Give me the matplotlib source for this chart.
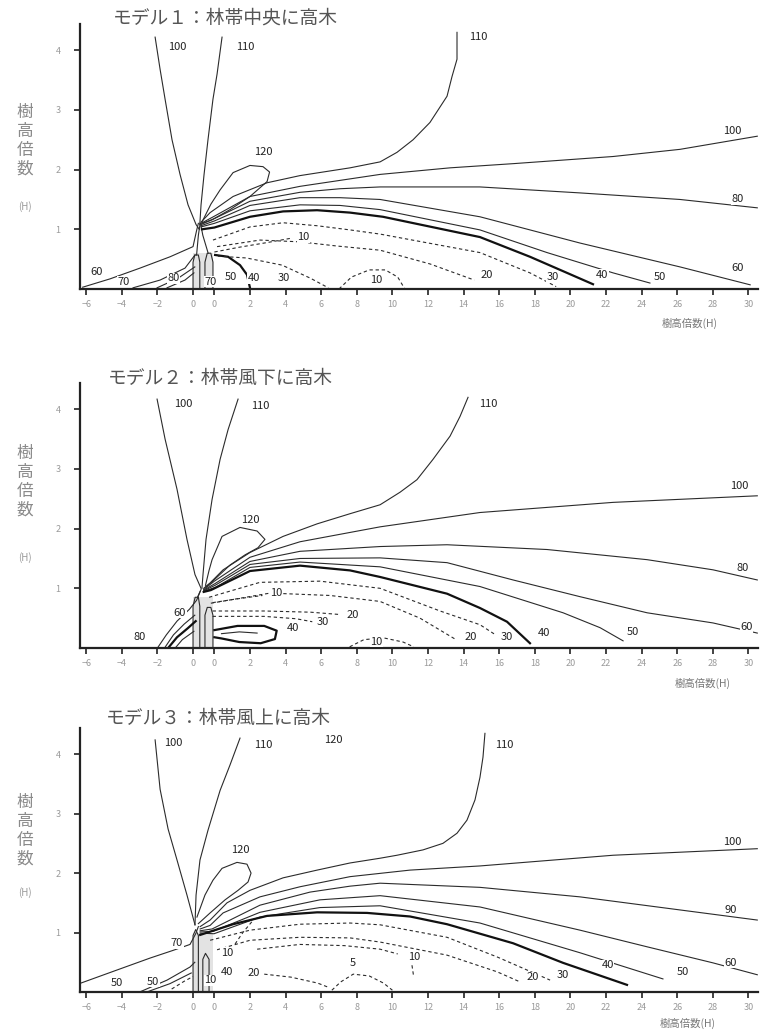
import matplotlib
matplotlib.use("Agg")
import matplotlib.pyplot as plt

plt.rcParams['font.family'] = ['Noto Sans CJK JP', 'DejaVu Sans']

# x axis: windward side -6..0, belt (drawn 1.2 wide), leeward side 0..30
belt_w = 1.2
xtick_pos = [-6, -4, -2, 0] + [belt_w + v for v in range(0, 31, 2)]
xtick_lab = ['−6', '−4', '−2', '0'] + [str(v) for v in range(0, 31, 2)]
ytick_pos = [1, 2, 3, 4]

titles = ["モデル１：林帯中央に高木", "モデル２：林帯風下に高木", "モデル３：林帯風上に高木"]

# ---------------- model 1 ----------------
p1_100L = [(-2.13, 4.22), (-1.85, 3.68), (-1.57, 3.18), (-1.18, 2.50), (-0.73, 1.92), (-0.28, 1.41), (0.17, 1.08), (0.35, 1.0)]
p1_110L = [(1.63, 4.22), (1.35, 3.60), (1.12, 3.18), (0.84, 2.50), (0.62, 1.92), (0.45, 1.41), (0.38, 1.08)]
p1_120 = [(0.5, 1.12), (1.0, 1.42), (1.52, 1.66), (2.25, 1.95), (3.2, 2.07), (3.93, 2.05), (4.3, 1.96), (4.16, 1.80), (3.2, 1.55), (2.08, 1.33), (1.07, 1.16), (0.5, 1.1)]
p1_110R = [(0.45, 1.12), (0.96, 1.28), (2.25, 1.55), (4.16, 1.78), (6.01, 1.90), (8.82, 2.03), (10.51, 2.13), (11.46, 2.29), (12.36, 2.50), (13.31, 2.79), (14.27, 3.23), (14.55, 3.56), (14.83, 3.85), (14.83, 4.30)]
p1_100R = [(0.45, 1.1), (1.2, 1.22), (3.2, 1.55), (6.01, 1.72), (10.51, 1.92), (14.44, 2.03), (17.98, 2.10), (23.6, 2.22), (27.36, 2.34), (31.7, 2.56)]
p1_80 = [(0.45, 1.08), (1.2, 1.18), (3.2, 1.47), (6.01, 1.62), (8.26, 1.68), (10.51, 1.71), (16.12, 1.71), (21.74, 1.61), (27.36, 1.50), (31.7, 1.36)]
p1_60 = [(0.45, 1.06), (1.2, 1.14), (3.2, 1.40), (6.01, 1.53), (8.26, 1.53), (10.51, 1.50), (16.12, 1.21), (21.74, 0.77), (27.36, 0.37), (31.3, 0.07)]
p1_50 = [(0.45, 1.04), (1.2, 1.10), (3.2, 1.31), (6.01, 1.41), (8.26, 1.40), (10.51, 1.33), (16.12, 0.99), (19.89, 0.61), (23.6, 0.27), (25.67, 0.10)]
p1_40 = [(0.5, 1.0), (1.2, 1.03), (3.2, 1.21), (5.06, 1.30), (6.97, 1.32), (8.82, 1.28), (10.67, 1.21), (16.12, 0.87), (18.93, 0.54), (21.01, 0.27), (22.47, 0.08)]
p1_30 = [(1.12, 0.82), (3.2, 1.04), (5.06, 1.11), (6.97, 1.06), (8.82, 0.99), (10.51, 0.92), (16.12, 0.61), (18.93, 0.27), (20.4, 0.04)]
p1_20 = [(1.35, 0.71), (3.76, 0.82), (6.01, 0.79), (8.09, 0.72), (10.51, 0.65), (13.31, 0.42), (15.8, 0.15)]
p1_10a = [(1.2, 0.62), (2.6, 0.70), (4.2, 0.78), (5.5, 0.85)]
p1_10b = [(1.4, 0.55), (3.0, 0.52), (5.0, 0.40), (6.6, 0.18), (7.6, 0.02)]
p1_10c = [(8.2, 0.0), (8.9, 0.2), (9.9, 0.32), (10.8, 0.32), (11.5, 0.2), (11.9, 0.0)]
p1_60W = [(-6.2, 0.03), (-4.66, 0.17), (-2.98, 0.35), (-1.29, 0.54), (0.0, 0.71), (0.2, 0.98), (0.3, 1.1)]
p1_70W = [(-3.37, 0.02), (-1.85, 0.15), (-0.45, 0.35), (0.11, 0.57)]
p1_80W = [(-2.02, 0.02), (-0.84, 0.18), (0.1, 0.37)]
p1_90W = [(-1.46, 0.02), (-0.45, 0.15), (0.05, 0.27)]
p1_50arc = [(1.24, 0.57), (1.97, 0.54), (2.64, 0.40), (3.03, 0.24), (3.2, 0.02)]
p1_beltA = [(0.0, 0.0), (0.0, 0.45), (0.1, 0.57), (0.3, 0.57), (0.38, 0.45), (0.38, 0.0)]
p1_beltB = [(0.67, 0.0), (0.67, 0.45), (0.8, 0.6), (1.0, 0.6), (1.12, 0.45), (1.12, 0.0)]
p1_stem = [(0.2, 0.57), (0.3, 0.9), (0.4, 1.1)]
p1_stem2 = [(0.85, 0.6), (0.55, 0.9), (0.42, 1.1)]
p1_labels = [("100", -0.9, 4.05), ("110", 2.92, 4.05), ("110", 16.0, 4.22), ("120", 3.93, 2.29),
             ("100", 30.3, 2.64), ("80", 30.6, 1.50), ("60", 30.6, 0.35), ("50", 26.2, 0.2),
             ("40", 23.0, 0.24), ("30", 20.2, 0.2), ("20", 16.5, 0.24), ("10", 6.2, 0.87),
             ("10", 10.3, 0.15), ("60", -5.4, 0.29), ("70", -3.9, 0.12), ("80", -1.1, 0.18),
             ("70", 0.96, 0.12), ("50", 2.1, 0.2), ("40", 3.4, 0.18), ("30", 5.1, 0.18)]

# ---------------- model 2 ----------------
p2_100L = [(-2.02, 4.17), (-1.57, 3.50), (-0.90, 2.66), (-0.34, 1.82), (0.11, 1.23), (0.45, 1.0)]
p2_110L = [(2.53, 4.17), (1.97, 3.66), (1.52, 3.16), (1.07, 2.49), (0.73, 1.82), (0.56, 1.23), (0.5, 1.0)]
p2_120 = [(0.7, 1.05), (0.9, 1.3), (1.07, 1.48), (1.63, 1.87), (2.64, 2.02), (3.6, 1.96), (4.04, 1.82), (3.65, 1.68), (2.92, 1.56), (2.08, 1.39), (1.07, 1.11), (0.7, 1.02)]
p2_110R = [(0.6, 1.0), (0.96, 1.09), (1.69, 1.31), (3.2, 1.60), (5.06, 1.87), (6.97, 2.08), (8.82, 2.25), (10.51, 2.40), (11.63, 2.61), (12.58, 2.82), (13.48, 3.16), (14.44, 3.55), (15.0, 3.88), (15.45, 4.20)]
p2_100R = [(0.6, 0.98), (1.2, 1.12), (3.2, 1.52), (6.01, 1.78), (10.51, 2.03), (16.12, 2.27), (23.6, 2.44), (31.7, 2.55)]
p2_80 = [(0.6, 0.97), (1.24, 1.08), (3.2, 1.45), (6.01, 1.62), (10.51, 1.70), (14.27, 1.73), (19.89, 1.65), (25.51, 1.48), (29.21, 1.31), (31.7, 1.14)]
p2_60 = [(0.6, 0.96), (1.24, 1.05), (3.2, 1.40), (6.01, 1.50), (10.51, 1.51), (14.27, 1.43), (17.98, 1.14), (21.74, 0.86), (25.51, 0.59), (29.21, 0.42), (31.7, 0.25)]
p2_50 = [(0.6, 0.95), (1.29, 1.02), (3.2, 1.35), (6.01, 1.44), (10.51, 1.36), (16.12, 1.03), (20.79, 0.59), (22.87, 0.34), (24.16, 0.12)]
p2_40 = [(0.6, 0.94), (1.0, 0.97), (3.2, 1.29), (6.01, 1.38), (8.82, 1.30), (10.51, 1.19), (14.27, 0.91), (16.12, 0.67), (17.64, 0.44), (18.93, 0.08)]
p2_30 = [(0.9, 0.85), (3.76, 1.10), (7.13, 1.12), (10.51, 1.0), (13.88, 0.62), (16.12, 0.39), (17.0, 0.22)]
p2_20 = [(1.0, 0.75), (4.33, 0.92), (7.7, 0.88), (10.51, 0.78), (12.75, 0.50), (14.72, 0.15)]
p2_10a = [(1.1, 0.76), (2.4, 0.82), (3.9, 0.88)]
p2_20b = [(1.1, 0.62), (4.0, 0.62), (6.6, 0.60), (8.3, 0.56)]
p2_30b = [(1.1, 0.53), (4.0, 0.53), (5.8, 0.49), (6.7, 0.44)]
p2_40loop = [(1.2, 0.30), (2.5, 0.37), (4.0, 0.37), (4.7, 0.29), (4.6, 0.15), (3.8, 0.08), (2.6, 0.10), (1.6, 0.16), (1.2, 0.18)]
p2_40in = [(1.6, 0.24), (2.6, 0.27), (3.6, 0.25)]
p2_10dome = [(8.8, 0.02), (9.6, 0.14), (10.7, 0.17), (11.8, 0.10), (12.4, 0.02)]
p2_80W = [(-2.0, 0.0), (-1.5, 0.22), (-0.9, 0.45), (-0.2, 0.65), (0.2, 0.80), (0.45, 0.98)]
p2_70W = [(-1.6, 0.0), (-1.1, 0.22), (-0.5, 0.40), (0.1, 0.55)]
p2_60W = [(-1.4, 0.0), (-0.9, 0.18), (-0.3, 0.33), (0.15, 0.45)]
p2_50W = [(-1.0, 0.0), (-0.6, 0.14), (0.05, 0.28)]
p2_beltA = [(0.0, 0.0), (0.0, 0.70), (0.12, 0.85), (0.3, 0.85), (0.38, 0.70), (0.38, 0.0)]
p2_beltB = [(0.67, 0.0), (0.67, 0.55), (0.8, 0.68), (1.0, 0.68), (1.12, 0.55), (1.12, 0.0)]
p2_stem = [(0.25, 0.85), (0.4, 0.95)]
p2_labels = [("100", -0.56, 4.08), ("110", 3.76, 4.05), ("110", 16.6, 4.08), ("120", 3.2, 2.15),
             ("100", 30.7, 2.71), ("80", 30.9, 1.34), ("60", 31.1, 0.35), ("50", 24.7, 0.27),
             ("40", 19.7, 0.25), ("30", 17.6, 0.18), ("20", 15.6, 0.18), ("10", 4.7, 0.92),
             ("40", 5.6, 0.34), ("30", 7.3, 0.44), ("20", 9.0, 0.55), ("10", 10.3, 0.1),
             ("80", -3.0, 0.18), ("60", -0.73, 0.59)]

# ---------------- model 3 ----------------
p3_100L = [(-2.13, 4.24), (-1.85, 3.41), (-1.40, 2.74), (-0.9, 2.22), (-0.34, 1.63), (0.11, 1.13)]
p3_110L = [(2.64, 4.27), (2.08, 3.82), (1.52, 3.39), (0.84, 2.72), (0.39, 2.22), (0.17, 1.63), (0.11, 1.13)]
p3_120 = [(0.22, 1.26), (0.67, 1.63), (1.12, 1.88), (1.63, 2.08), (2.47, 2.18), (3.03, 2.15), (3.26, 2.0), (3.09, 1.85), (2.53, 1.71), (1.80, 1.55), (0.96, 1.33), (0.3, 1.15)]
p3_110R = [(0.4, 1.1), (0.96, 1.21), (1.91, 1.50), (3.2, 1.71), (5.06, 1.92), (6.97, 2.05), (8.82, 2.17), (10.51, 2.25), (11.46, 2.30), (12.92, 2.39), (14.04, 2.50), (14.83, 2.67), (15.39, 2.89), (15.84, 3.23), (16.12, 3.61), (16.29, 3.95), (16.4, 4.35)]
p3_100R = [(0.4, 1.06), (0.96, 1.12), (1.69, 1.33), (3.76, 1.60), (6.01, 1.77), (8.82, 1.94), (12.19, 2.05), (16.12, 2.12), (23.6, 2.30), (31.7, 2.41)]
p3_90 = [(0.4, 1.03), (1.07, 1.06), (3.76, 1.46), (6.57, 1.68), (8.82, 1.78), (10.51, 1.83), (16.12, 1.76), (21.74, 1.60), (27.36, 1.38), (31.7, 1.21)]
p3_60 = [(0.4, 1.01), (1.12, 1.02), (3.76, 1.34), (7.13, 1.55), (10.51, 1.62), (16.12, 1.43), (21.74, 1.04), (25.51, 0.76), (29.21, 0.49), (31.7, 0.29)]
p3_50 = [(0.4, 0.99), (1.18, 0.98), (3.76, 1.26), (7.13, 1.42), (10.51, 1.45), (16.12, 1.16), (21.74, 0.66), (26.4, 0.22)]
p3_40 = [(0.4, 0.96), (2.25, 1.14), (4.16, 1.28), (6.97, 1.34), (9.78, 1.33), (12.19, 1.27), (14.27, 1.14), (17.98, 0.82), (20.79, 0.49), (24.38, 0.12)]
p3_30 = [(0.96, 0.87), (3.2, 1.04), (6.01, 1.14), (8.82, 1.16), (10.51, 1.13), (14.27, 0.92), (17.08, 0.59), (20.06, 0.20)]
p3_20 = [(1.35, 0.71), (3.2, 0.87), (6.01, 0.92), (8.82, 0.91), (10.51, 0.84), (14.27, 0.62), (17.08, 0.34), (18.37, 0.17)]
p3_10 = [(3.6, 0.72), (6.0, 0.80), (8.5, 0.78), (10.51, 0.72), (11.5, 0.64)]
p3_10c = [(12.3, 0.45), (12.4, 0.25)]
p3_10b = [(3.3, 1.18), (2.8, 1.0), (2.3, 0.78)]
p3_20b = [(4.0, 0.30), (5.5, 0.25), (7.0, 0.15), (7.6, 0.08)]
p3_5 = [(7.8, 0.03), (8.3, 0.17), (9.0, 0.30), (9.9, 0.27), (10.7, 0.15), (11.2, 0.03)]
p3_70W = [(-6.3, 0.15), (-4.27, 0.37), (-2.42, 0.57), (-1.12, 0.70), (-0.17, 0.80), (0.15, 0.98), (0.3, 1.1)]
p3_60W = [(-3.0, 0.0), (-1.46, 0.2), (-0.17, 0.42), (0.1, 0.5)]
p3_50W = [(-2.6, 0.0), (-1.3, 0.14), (-0.1, 0.32)]
p3_dW = [(-1.2, 0.05), (-0.5, 0.18), (0.0, 0.26)]
p3_beltA = [(0.0, 0.0), (0.0, 0.95), (0.15, 1.05), (0.3, 0.95), (0.3, 0.0)]
p3_beltB = [(0.55, 0.0), (0.55, 0.55), (0.7, 0.65), (0.9, 0.55), (0.9, 0.0)]
p3_labels = [("100", -1.12, 4.18), ("110", 3.93, 4.15), ("120", 7.87, 4.24), ("110", 17.5, 4.15),
             ("120", 2.64, 2.39), ("100", 30.3, 2.52), ("90", 30.2, 1.38), ("60", 30.2, 0.49),
             ("50", 27.5, 0.34), ("40", 23.3, 0.45), ("30", 20.8, 0.29), ("20", 19.1, 0.25),
             ("10", 12.4, 0.59), ("10", 1.9, 0.66), ("40", 1.9, 0.34), ("10", 0.96, 0.2),
             ("20", 3.4, 0.32), ("5", 9.0, 0.49), ("70", -0.9, 0.82), ("50", -4.3, 0.15),
             ("50", -2.25, 0.17)]

panels = [
    dict(thin=[p1_100L, p1_110L, p1_120, p1_110R, p1_100R, p1_80, p1_60, p1_50, p1_60W, p1_70W,
               p1_80W, p1_90W, p1_beltA, p1_beltB, p1_stem, p1_stem2],
         thick=[p1_40, p1_50arc],
         dash=[p1_30, p1_20, p1_10a, p1_10b, p1_10c],
         labels=p1_labels, belt_h=0.6),
    dict(thin=[p2_100L, p2_110L, p2_120, p2_110R, p2_100R, p2_80, p2_60, p2_50, p2_80W, p2_70W,
               p2_50W, p2_beltA, p2_beltB, p2_stem, p2_40in],
         thick=[p2_40, p2_40loop, p2_60W],
         dash=[p2_30, p2_20, p2_10a, p2_20b, p2_30b, p2_10dome],
         labels=p2_labels, belt_h=0.85),
    dict(thin=[p3_100L, p3_110L, p3_120, p3_110R, p3_100R, p3_90, p3_60, p3_50, p3_70W, p3_60W,
               p3_50W, p3_beltA, p3_beltB],
         thick=[p3_40],
         dash=[p3_30, p3_20, p3_10, p3_10b, p3_10c, p3_20b, p3_5, p3_dW],
         labels=p3_labels, belt_h=1.0),
]

W, H = 760, 1033
fig = plt.figure(figsize=(7.6, 10.33), dpi=100)
axes_px = [(24, 289), (383, 648), (728, 992)]   # top, bottom in pixels
title_px = [(225, 18), (220, 378), (218, 718)]
ylab_px = [141, 482, 831]
hlab_px = [207, 558, 893]
xlab_px = [(690, 323), (703, 683), (688, 1023)]

line_col = '#2b2b2b'
for i, pn in enumerate(panels):
    top, bot = axes_px[i]
    ax = fig.add_axes([80 / W, 1 - bot / H, 678 / W, (bot - top) / H])
    ax.set_xlim(-6.35, 31.74)
    ax.set_ylim(0, 4.44)
    ax.fill_between([0, belt_w - 0.1], 0, pn['belt_h'], color='#e3e3e3', lw=0, zorder=0)
    for c in pn['thin']:
        xs, ys = zip(*c)
        ax.plot(xs, ys, color=line_col, lw=0.8, solid_joinstyle='round')
    for c in pn['thick']:
        xs, ys = zip(*c)
        ax.plot(xs, ys, color='#111111', lw=1.6, solid_joinstyle='round')
    for c in pn['dash']:
        xs, ys = zip(*c)
        ax.plot(xs, ys, color=line_col, lw=0.8, dashes=(3, 2.5))
    for txt, x, y in pn['labels']:
        ax.text(x, y, txt, fontsize=8, color='#222222', ha='center', va='center',
                bbox=dict(facecolor='white', edgecolor='none', pad=0.3))
    for s in ['top', 'right']:
        ax.spines[s].set_visible(False)
    for s in ['left', 'bottom']:
        ax.spines[s].set_linewidth(1.6)
        ax.spines[s].set_color('#222222')
    ax.set_xticks(xtick_pos)
    ax.set_xticklabels(xtick_lab)
    ax.set_yticks(ytick_pos)
    ax.set_yticklabels([str(v) for v in ytick_pos])
    ax.tick_params(axis='both', colors='#222222', labelcolor='#9a9a9a', labelsize=6.5,
                   width=1.2, length=4, direction='out')
    ax.tick_params(axis='y', pad=10)
    ax.tick_params(axis='x', pad=4)

    tx, ty = title_px[i]
    fig.text(tx / W, 1 - ty / H, titles[i], fontsize=13.5, color='#555555', ha='center', va='center')
    fig.text(25 / W, 1 - ylab_px[i] / H, "樹\n高\n倍\n数", fontsize=12, color='#8a8a8a',
             ha='center', va='center', linespacing=1.15)
    fig.text(25 / W, 1 - hlab_px[i] / H, "(H)", fontsize=7, color='#9a9a9a', ha='center', va='center')
    lx, ly = xlab_px[i]
    fig.text(lx / W, 1 - ly / H, "樹高倍数(H)", fontsize=7.5, color='#777777', ha='center', va='center')

fig.savefig("out.png", dpi=100, facecolor='white')
